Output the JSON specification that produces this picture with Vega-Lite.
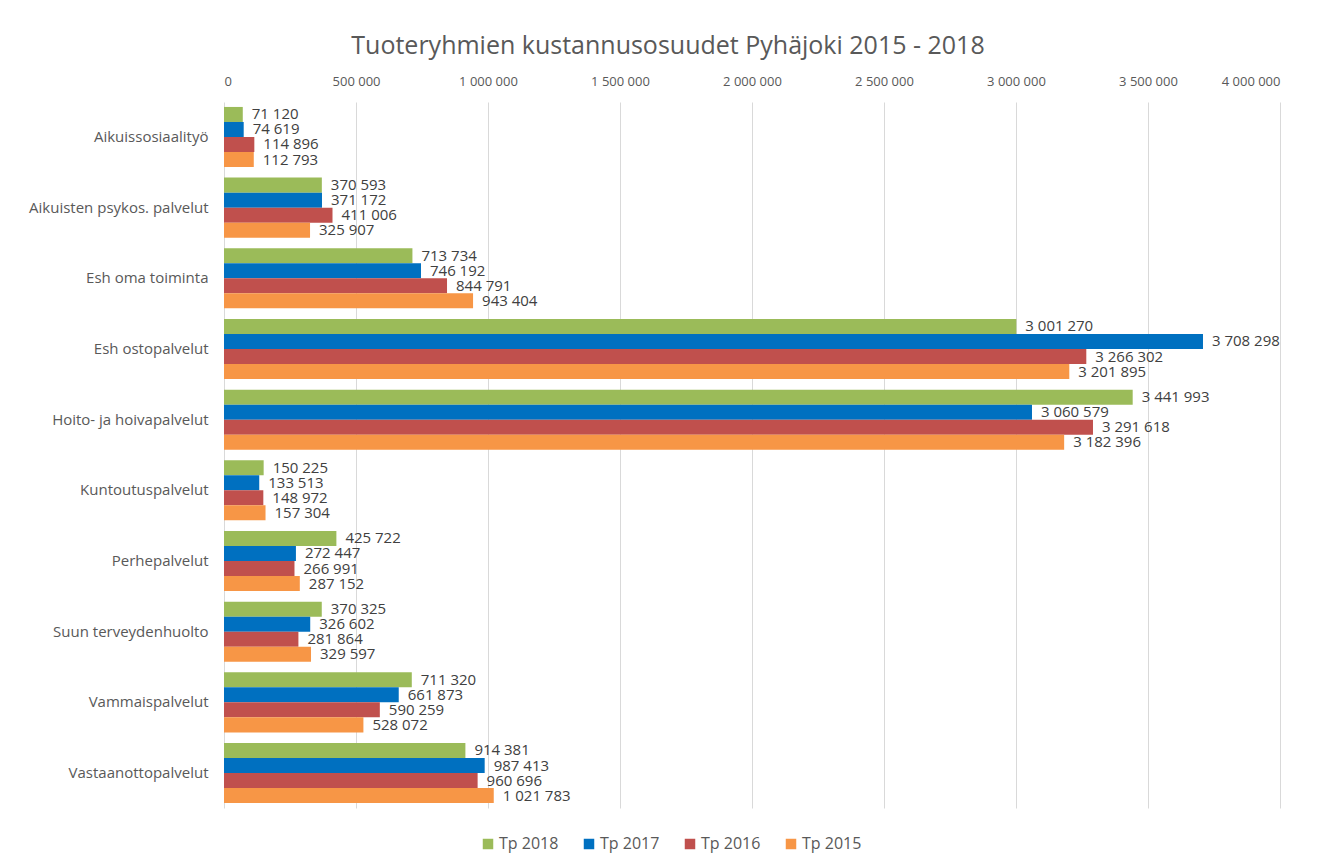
{
  "$schema": "https://vega.github.io/schema/vega-lite/v6.json",
  "width": 1056,
  "height": 706,
  "autosize": {"type": "none"},
  "padding": {"left": 224, "top": 102, "right": 61, "bottom": 58},
  "background": "white",
  "config": {
    "locale": {"number": {"decimal": ",", "thousands": "\u00a0", "grouping": [3], "currency": ["", "\u00a0€"]}},
    "view": {"stroke": null},
    "font": "Open Sans"
  },
  "title": {
    "text": "Tuoteryhmien kustannusosuudet Pyhäjoki 2015 - 2018",
    "fontSize": 25,
    "fontWeight": "normal",
    "color": "#595959",
    "font": "Open Sans",
    "anchor": "middle",
    "dx": -84,
    "offset": 16
  },
  "data": {
    "values": [
      {"kategoria": "Aikuissosiaalityö", "sarja": "Tp 2018", "arvo": 71120},
      {"kategoria": "Aikuissosiaalityö", "sarja": "Tp 2017", "arvo": 74619},
      {"kategoria": "Aikuissosiaalityö", "sarja": "Tp 2016", "arvo": 114896},
      {"kategoria": "Aikuissosiaalityö", "sarja": "Tp 2015", "arvo": 112793},
      {"kategoria": "Aikuisten psykos. palvelut", "sarja": "Tp 2018", "arvo": 370593},
      {"kategoria": "Aikuisten psykos. palvelut", "sarja": "Tp 2017", "arvo": 371172},
      {"kategoria": "Aikuisten psykos. palvelut", "sarja": "Tp 2016", "arvo": 411006},
      {"kategoria": "Aikuisten psykos. palvelut", "sarja": "Tp 2015", "arvo": 325907},
      {"kategoria": "Esh oma toiminta", "sarja": "Tp 2018", "arvo": 713734},
      {"kategoria": "Esh oma toiminta", "sarja": "Tp 2017", "arvo": 746192},
      {"kategoria": "Esh oma toiminta", "sarja": "Tp 2016", "arvo": 844791},
      {"kategoria": "Esh oma toiminta", "sarja": "Tp 2015", "arvo": 943404},
      {"kategoria": "Esh ostopalvelut", "sarja": "Tp 2018", "arvo": 3001270},
      {"kategoria": "Esh ostopalvelut", "sarja": "Tp 2017", "arvo": 3708298},
      {"kategoria": "Esh ostopalvelut", "sarja": "Tp 2016", "arvo": 3266302},
      {"kategoria": "Esh ostopalvelut", "sarja": "Tp 2015", "arvo": 3201895},
      {"kategoria": "Hoito- ja hoivapalvelut", "sarja": "Tp 2018", "arvo": 3441993},
      {"kategoria": "Hoito- ja hoivapalvelut", "sarja": "Tp 2017", "arvo": 3060579},
      {"kategoria": "Hoito- ja hoivapalvelut", "sarja": "Tp 2016", "arvo": 3291618},
      {"kategoria": "Hoito- ja hoivapalvelut", "sarja": "Tp 2015", "arvo": 3182396},
      {"kategoria": "Kuntoutuspalvelut", "sarja": "Tp 2018", "arvo": 150225},
      {"kategoria": "Kuntoutuspalvelut", "sarja": "Tp 2017", "arvo": 133513},
      {"kategoria": "Kuntoutuspalvelut", "sarja": "Tp 2016", "arvo": 148972},
      {"kategoria": "Kuntoutuspalvelut", "sarja": "Tp 2015", "arvo": 157304},
      {"kategoria": "Perhepalvelut", "sarja": "Tp 2018", "arvo": 425722},
      {"kategoria": "Perhepalvelut", "sarja": "Tp 2017", "arvo": 272447},
      {"kategoria": "Perhepalvelut", "sarja": "Tp 2016", "arvo": 266991},
      {"kategoria": "Perhepalvelut", "sarja": "Tp 2015", "arvo": 287152},
      {"kategoria": "Suun terveydenhuolto", "sarja": "Tp 2018", "arvo": 370325},
      {"kategoria": "Suun terveydenhuolto", "sarja": "Tp 2017", "arvo": 326602},
      {"kategoria": "Suun terveydenhuolto", "sarja": "Tp 2016", "arvo": 281864},
      {"kategoria": "Suun terveydenhuolto", "sarja": "Tp 2015", "arvo": 329597},
      {"kategoria": "Vammaispalvelut", "sarja": "Tp 2018", "arvo": 711320},
      {"kategoria": "Vammaispalvelut", "sarja": "Tp 2017", "arvo": 661873},
      {"kategoria": "Vammaispalvelut", "sarja": "Tp 2016", "arvo": 590259},
      {"kategoria": "Vammaispalvelut", "sarja": "Tp 2015", "arvo": 528072},
      {"kategoria": "Vastaanottopalvelut", "sarja": "Tp 2018", "arvo": 914381},
      {"kategoria": "Vastaanottopalvelut", "sarja": "Tp 2017", "arvo": 987413},
      {"kategoria": "Vastaanottopalvelut", "sarja": "Tp 2016", "arvo": 960696},
      {"kategoria": "Vastaanottopalvelut", "sarja": "Tp 2015", "arvo": 1021783}
    ]
  },
  "encoding": {
    "y": {
      "field": "kategoria",
      "type": "nominal",
      "sort": null,
      "title": null,
      "scale": {"paddingInner": 0.15, "paddingOuter": 0.07},
      "axis": {
        "ticks": false,
        "domain": false,
        "grid": false,
        "labelPadding": 16,
        "labelFontSize": 15,
        "labelColor": "#595959",
        "labelFont": "Open Sans"
      }
    },
    "yOffset": {
      "field": "sarja",
      "type": "nominal",
      "sort": ["Tp 2018", "Tp 2017", "Tp 2016", "Tp 2015"],
      "scale": {"paddingInner": 0, "paddingOuter": 0}
    },
    "x": {
      "field": "arvo",
      "type": "quantitative",
      "title": null,
      "scale": {"domain": [0, 4000000], "nice": false},
      "axis": {
        "orient": "top",
        "values": [0, 500000, 1000000, 1500000, 2000000, 2500000, 3000000, 3500000, 4000000],
        "format": ",d",
        "ticks": false,
        "domain": false,
        "grid": true,
        "gridColor": "#d9d9d9",
        "gridWidth": 1,
        "labelPadding": 14,
        "labelFontSize": 13,
        "labelColor": "#595959",
        "labelFont": "Open Sans"
      }
    }
  },
  "layer": [
    {
      "mark": {"type": "bar"},
      "encoding": {
        "color": {
          "field": "sarja",
          "type": "nominal",
          "sort": ["Tp 2018", "Tp 2017", "Tp 2016", "Tp 2015"],
          "scale": {
            "domain": ["Tp 2018", "Tp 2017", "Tp 2016", "Tp 2015"],
            "range": ["#9BBB59", "#0070C0", "#C0504D", "#F79646"]
          },
          "legend": {
            "title": null,
            "orient": "none",
            "direction": "horizontal",
            "legendX": 256,
            "legendY": 734,
            "symbolType": "square",
            "symbolSize": 110,
            "symbolStrokeWidth": 0,
            "labelFontSize": 16,
            "labelColor": "#595959",
            "labelFont": "Open Sans",
            "columnPadding": 22,
            "labelOffset": 3
          }
        }
      }
    },
    {
      "mark": {
        "type": "text",
        "align": "left",
        "baseline": "middle",
        "dx": 9,
        "fontSize": 15,
        "color": "#404040",
        "font": "Open Sans"
      },
      "encoding": {
        "text": {"field": "arvo", "type": "quantitative", "format": ",d"}
      }
    }
  ]
}
